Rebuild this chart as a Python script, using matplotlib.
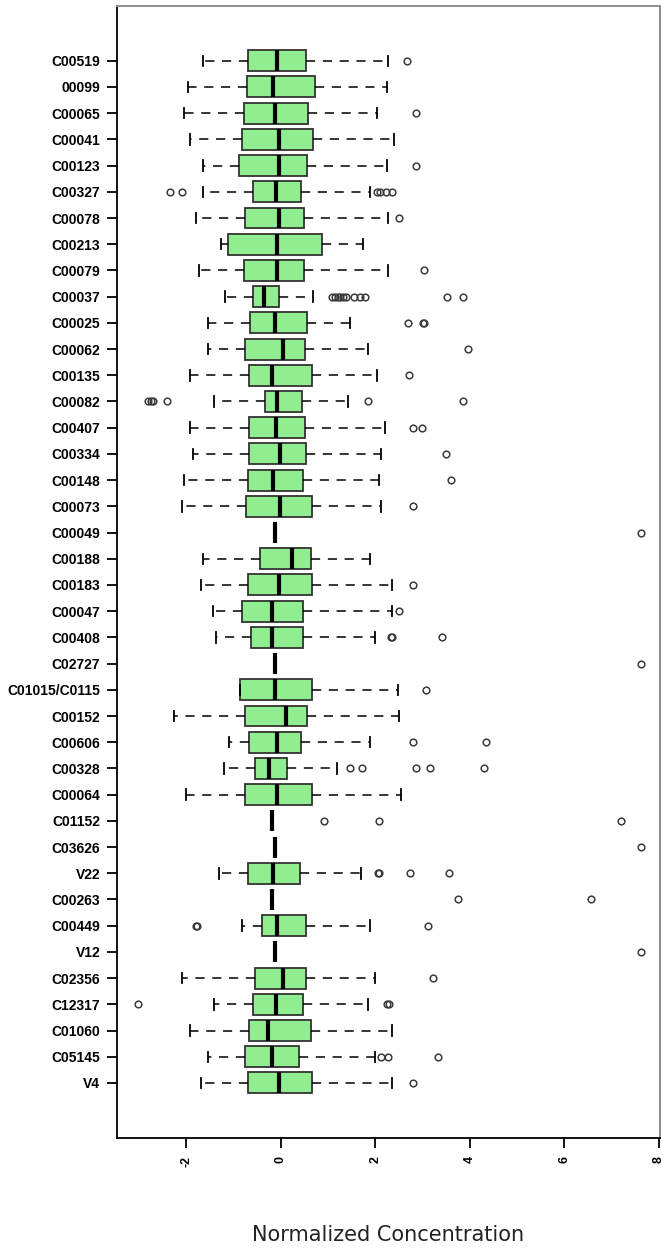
import matplotlib
matplotlib.use("Agg")
import matplotlib.pyplot as plt

# compounds from top to bottom
labels = ["C00519", "00099", "C00065", "C00041", "C00123", "C00327", "C00078",
          "C00213", "C00079", "C00037", "C00025", "C00062", "C00135", "C00082",
          "C00407", "C00334", "C00148", "C00073", "C00049", "C00188", "C00183",
          "C00047", "C00408", "C02727", "C01015/C0115", "C00152", "C00606",
          "C00328", "C00064", "C01152", "C03626", "V22", "C00263", "C00449",
          "V12", "C02356", "C12317", "C01060", "C05145", "V4"]

whislo = [-1.65, -1.96, -2.04, -1.93, -1.65, -1.65, -1.80, -1.26, -1.72, -1.19,
          -1.53, -1.53, -1.93, -1.42, -1.93, -1.85, -2.04, -2.08, -0.12, -1.65,
          -1.69, -1.43, -1.37, -0.12, -0.86, -2.25, -1.09, -1.20, -2.01, -0.19,
          -0.12, -1.30, -0.19, -0.82, -0.12, -2.08, -1.42, -1.93, -1.53, -1.69]
q1 = [-0.70, -0.72, -0.78, -0.82, -0.89, -0.58, -0.76, -1.12, -0.78, -0.59,
      -0.65, -0.75, -0.67, -0.34, -0.67, -0.68, -0.70, -0.74, -0.12, -0.43,
      -0.69, -0.82, -0.63, -0.12, -0.86, -0.76, -0.68, -0.55, -0.75, -0.19,
      -0.12, -0.69, -0.19, -0.39, -0.12, -0.55, -0.59, -0.67, -0.75, -0.69]
med = [-0.08, -0.16, -0.12, -0.04, -0.04, -0.11, -0.04, -0.08, -0.08, -0.36,
       -0.12, 0.04, -0.19, -0.08, -0.11, -0.01, -0.16, -0.01, -0.12, 0.23,
       -0.04, -0.19, -0.19, -0.12, -0.12, 0.12, -0.08, -0.24, -0.08, -0.19,
       -0.12, -0.16, -0.19, -0.08, -0.12, 0.04, -0.11, -0.28, -0.19, -0.04]
q3 = [0.54, 0.73, 0.58, 0.68, 0.55, 0.42, 0.50, 0.87, 0.50, -0.04,
      0.56, 0.51, 0.67, 0.45, 0.51, 0.53, 0.48, 0.66, -0.12, 0.63,
      0.67, 0.48, 0.48, -0.12, 0.65, 0.56, 0.43, 0.13, 0.66, -0.19,
      -0.12, 0.40, -0.19, 0.54, -0.12, 0.54, 0.48, 0.63, 0.39, 0.67]
whishi = [2.27, 2.24, 2.03, 2.40, 2.24, 1.88, 2.27, 1.73, 2.27, 0.68,
          1.46, 1.85, 2.03, 1.42, 2.20, 2.12, 2.08, 2.12, -0.12, 1.88,
          2.36, 2.36, 2.00, -0.12, 2.48, 2.51, 1.89, 1.18, 2.55, -0.19,
          -0.12, 1.69, -0.19, 1.89, -0.12, 2.00, 1.85, 2.36, 2.00, 2.36]
outliers = [
    [2.67], [], [2.87], [], [2.85],
    [-2.35, -2.08, 2.03, 2.10, 2.22, 2.36],
    [2.50], [], [3.03],
    [1.08, 1.14, 1.20, 1.26, 1.32, 1.37, 1.55, 1.67, 1.79, 3.52, 3.85],
    [2.69, 3.00, 3.02], [3.95], [2.72],
    [-2.80, -2.74, -2.70, -2.41, 1.84, 3.86],
    [2.80, 2.99], [3.49], [3.59], [2.79], [7.62], [],
    [2.79], [2.50], [2.33, 2.35, 3.42], [7.62], [3.08], [],
    [2.79, 4.35], [1.47, 1.72, 2.86, 3.16, 4.29], [],
    [0.92, 2.08, 7.20], [7.62], [2.06, 2.08, 2.73, 3.55], [3.75, 6.56],
    [-1.80, -1.78, 3.11], [7.62], [3.22], [-3.03, 2.25, 2.29], [],
    [2.12, 2.26, 3.33], [2.79],
]

n = len(labels)
stats = []
for i in range(n):
    stats.append(dict(label=labels[i], whislo=whislo[i], q1=q1[i], med=med[i],
                      q3=q3[i], whishi=whishi[i], fliers=outliers[i]))
positions = list(range(n, 0, -1))

fig = plt.figure(figsize=(6.63, 12.49), dpi=100)
ax = fig.add_axes([116.7 / 663, 1 - 1138 / 1249, (660 - 116.7) / 663, (1138 - 5.7) / 1249])

ax.bxp(stats, positions=positions, orientation="horizontal", widths=0.8,
       capwidths=0.4, patch_artist=True,
       boxprops=dict(facecolor="#90ee90", edgecolor="#333333", linewidth=1.3),
       medianprops=dict(color="black", linewidth=3.0, solid_capstyle="butt"),
       whiskerprops=dict(color="black", linewidth=1.1, linestyle=(0, (6, 5))),
       capprops=dict(color="black", linewidth=1.3),
       flierprops=dict(marker="o", markerfacecolor="none", markeredgecolor="#3a3a3a",
                       markersize=4.8, markeredgewidth=1.1))

ax.set_xlim(-3.47, 8.02)
ax.set_ylim(-1.1, 42.1)
ax.set_yticks(positions)
ax.set_yticklabels(labels, fontfamily="Liberation Sans", fontweight="bold", fontsize=10)
ax.set_xticks([-2, 0, 2, 4, 6, 8])
ax.set_xticklabels(["-2", "0", "2", "4", "6", "8"], rotation=90,
                   fontfamily="Liberation Sans", fontweight="bold", fontsize=9)
ax.tick_params(axis="y", length=7, width=1.3, pad=5)
ax.tick_params(axis="x", length=7, width=1.3, pad=6)

for side in ["left", "bottom"]:
    ax.spines[side].set_linewidth(1.3)
    ax.spines[side].set_color("black")
for side in ["top", "right"]:
    ax.spines[side].set_linewidth(1.4)
    ax.spines[side].set_color("#8c8c8c")

fig.text(388 / 663, 1 - 1235 / 1249, "Normalized Concentration", ha="center",
         va="center", fontsize=15, color="#222222")

fig.savefig("out.png", dpi=100)
